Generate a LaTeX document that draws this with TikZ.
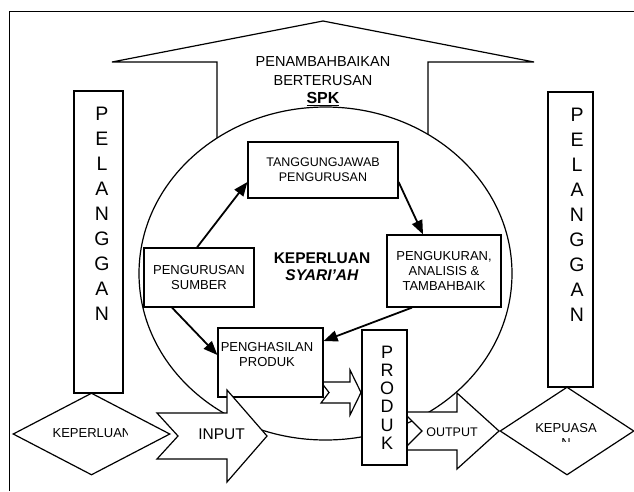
\documentclass[tikz,border=0pt]{standalone}
\usepackage{fontspec}
\setmainfont{Liberation Sans}
\usetikzlibrary{arrows.meta,shapes.geometric}
\begin{document}
\begin{tikzpicture}[x=1pt,y=-1pt,line width=1.2pt,
  box/.style={draw,fill=white,inner sep=0pt,align=center},
  blk/.style={draw,fill=white},
  gem/.style={draw,fill=white,diamond,inner sep=0pt},
  arr/.style={line width=1.8pt,-{Triangle[length=14pt,width=11pt]}},
  txt/.style={inner sep=0pt,align=center},
  vert/.style={inner sep=0pt,align=center,font=\fontsize{19.5}{25}\selectfont},
  every node/.style={font=\fontsize{13}{15}\selectfont}]
 \useasboundingbox (0,0) rectangle (634,491);
 \draw[line width=1pt] (9,491) -- (9,11) -- (634,11);
 % arrow on top
 \draw[blk] (217,220) -- (217,62) -- (112,62) -- (323,21) -- (534,62) -- (428,62) -- (428,220) -- cycle;
 \node[txt,anchor=north,font=\fontsize{14.5}{18.5}\selectfont] (improve) at (323,56)
   {PENAMBAHBAIKAN\\BERTERUSAN\\{\fontsize{16}{18}\selectfont\bfseries\underline{SPK}}};
 \draw[blk] (325.5,273.5) ellipse [x radius=186.5pt,y radius=166.5pt];
 \node[box,minimum width=150pt,minimum height=56pt,font=\fontsize{12.5}{15}\selectfont] (tanggung) at (323,170) {TANGGUNGJAWAB\\PENGURUSAN};
 \node[box,minimum width=110pt,minimum height=59pt] (sumber) at (199,277.5) {PENGURUSAN\\SUMBER};
 \node[box,minimum width=114pt,minimum height=72pt] (ukur) at (444,271) {PENGUKURAN,\\ANALISIS \&\\TAMBAHBAIK};
 \node[txt,font=\fontsize{15.5}{17}\selectfont\bfseries] (syariah) at (322,266.5) {KEPERLUAN\\\textit{SYARI’AH}};
 \draw[blk] (321,382) -- (350,382) -- (350,370) -- (361,392.5) -- (350,415) -- (350,403) -- (321,403) -- (329,392.5) -- cycle;
 \node[box,minimum width=105pt,minimum height=69pt] (hasil) at (270.5,362.5) {};
 \node[txt,anchor=north] (hasilTxt) at (267,342) {PENGHASILAN\\PRODUK};
 \draw[arr] ([xshift=-2pt]sumber.north) -- ([yshift=-12pt]tanggung.west);
 \draw[arr] ([yshift=-12pt]tanggung.east) -- ([xshift=-21pt]ukur.north);
 \draw[arr] ([xshift=-32pt]ukur.south) -- ([yshift=21.5pt]hasil.east);
 \draw[arr] ([xshift=-27pt]sumber.south) -- ([yshift=7.5pt]hasil.west);
 % input and output
 \draw[blk] (157,413) -- (227,413) -- (227,390) -- (267,436) -- (227,482) -- (227,459) -- (157,459) -- (178,436) -- cycle;
 \node[txt,font=\fontsize{15.5}{17}\selectfont] (inTxt) at (221.5,434) {INPUT};
 \draw[blk] (403,412) -- (457,412) -- (457,393) -- (499,431) -- (457,469) -- (457,450) -- (403,450) -- (422,431) -- cycle;
 \node[txt,font=\fontsize{12.5}{15}\selectfont] (outTxt) at (452,432) {OUTPUT};
 \node[box,minimum width=45pt,minimum height=135pt] (produk) at (384.5,397.5) {};
 \node[vert,font=\fontsize{18}{18.2}\selectfont] (produkTxt) at (387,397.5) {P\\R\\O\\D\\U\\K};
 % customers
 \node[box,minimum width=49pt,minimum height=302pt] (pelL) at (98.5,242) {};
 \node[vert] (pelLTxt) at (102,214) {P\\E\\L\\A\\N\\G\\G\\A\\N};
 \node[box,minimum width=45pt,minimum height=295pt] (pelR) at (570.5,239.5) {};
 \node[vert] (pelRTxt) at (577,215) {P\\E\\L\\A\\N\\G\\G\\A\\N};
 \node[gem,minimum width=157pt,minimum height=82pt] (need) at (91.5,434) {};
 \begin{scope}
  \clip (40,415) rectangle (127.5,455);
  \node[txt,anchor=west] (needTxt) at (52,433) {KEPERLUAN};
 \end{scope}
 \node[gem,minimum width=134pt,minimum height=88pt] (puas) at (567,431) {};
 \begin{scope}
  \clip (520,415) rectangle (625,441.5);
  \node[txt] (puasTxt) at (566,435.5) {KEPUASA\\N};
 \end{scope}
\end{tikzpicture}
\end{document}
